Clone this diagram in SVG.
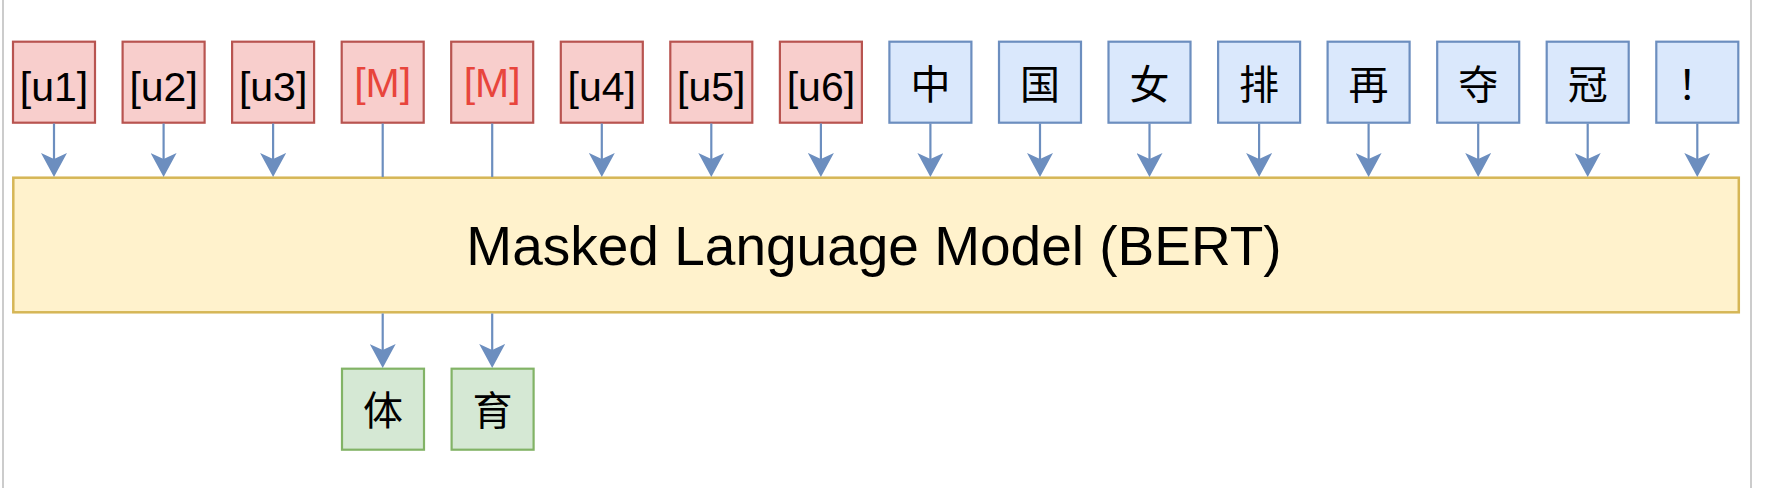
<svg xmlns="http://www.w3.org/2000/svg" width="1774" height="488" viewBox="0 0 1774 488">
<style>
.red rect{fill:#f8cecc;stroke:#b85450;stroke-width:2.2}
.blue rect{fill:#dae8fc;stroke:#6c8ebf;stroke-width:2.2}
.green rect{fill:#d5e8d4;stroke:#82b366;stroke-width:2.2}
.lat{font-family:"Liberation Sans",Arial,sans-serif;font-size:41px;fill:#000;text-anchor:middle}
.m{fill:#e8453c}
.cjk{font-family:"Noto Sans CJK SC","Liberation Sans",sans-serif;font-size:40px;fill:#000;text-anchor:middle}
.conn line{stroke:#6c8ebf;stroke-width:2.2;fill:none}
.arr{marker-end:url(#ah)}
</style>
<defs>
<marker id="ah" markerUnits="userSpaceOnUse" viewBox="0 0 24 26" markerWidth="24" markerHeight="26" refX="6" refY="13" orient="auto">
<path d="M0,0 L24,13 L0,26 L6,13 Z" fill="#6c8ebf"/>
</marker>
</defs>
<rect width="1774" height="488" fill="#fff"/>
<line x1="3" y1="0" x2="3" y2="488" stroke="#cccccc" stroke-width="2"/>
<line x1="1751" y1="0" x2="1751" y2="488" stroke="#cccccc" stroke-width="2"/>

<g id="bert">
<rect x="13.3" y="177.7" width="1725.5" height="134.6" fill="#fff2cc" stroke="#d6b656" stroke-width="2.5"/>
<text x="874" y="265" font-family="Liberation Sans,Arial,sans-serif" font-size="55" text-anchor="middle" fill="#000">Masked Language Model (BERT)</text>
</g>

<g id="u1" class="red"><rect x="13" y="41.7" width="82" height="81"/><text class="lat" x="54" y="101">[u1]</text></g>
<g id="u2" class="red"><rect x="122.6" y="41.7" width="82" height="81"/><text class="lat" x="163.6" y="101">[u2]</text></g>
<g id="u3" class="red"><rect x="232.1" y="41.7" width="82" height="81"/><text class="lat" x="273.1" y="101">[u3]</text></g>
<g id="m1" class="red"><rect x="341.7" y="41.7" width="82" height="81"/><text class="lat m" x="382.7" y="97">[M]</text></g>
<g id="m2" class="red"><rect x="451.2" y="41.7" width="82" height="81"/><text class="lat m" x="492.2" y="97">[M]</text></g>
<g id="u4" class="red"><rect x="560.8" y="41.7" width="82" height="81"/><text class="lat" x="601.8" y="101">[u4]</text></g>
<g id="u5" class="red"><rect x="670.3" y="41.7" width="82" height="81"/><text class="lat" x="711.3" y="101">[u5]</text></g>
<g id="u6" class="red"><rect x="779.9" y="41.7" width="82" height="81"/><text class="lat" x="820.9" y="101">[u6]</text></g>
<g id="c1" class="blue"><rect x="889.4" y="41.7" width="82" height="81"/><text class="cjk" x="930.4" y="98.5">中</text></g>
<g id="c2" class="blue"><rect x="999" y="41.7" width="82" height="81"/><text class="cjk" x="1040" y="98.5">国</text></g>
<g id="c3" class="blue"><rect x="1108.5" y="41.7" width="82" height="81"/><text class="cjk" x="1149.5" y="98.5">女</text></g>
<g id="c4" class="blue"><rect x="1218.1" y="41.7" width="82" height="81"/><text class="cjk" x="1259.1" y="98.5">排</text></g>
<g id="c5" class="blue"><rect x="1327.6" y="41.7" width="82" height="81"/><text class="cjk" x="1368.6" y="98.5">再</text></g>
<g id="c6" class="blue"><rect x="1437.2" y="41.7" width="82" height="81"/><text class="cjk" x="1478.2" y="98.5">夺</text></g>
<g id="c7" class="blue"><rect x="1546.7" y="41.7" width="82" height="81"/><text class="cjk" x="1587.7" y="98.5">冠</text></g>
<g id="c8" class="blue"><rect x="1656.3" y="41.7" width="82" height="81"/><text class="cjk" x="1697.3" y="98.5">！</text></g>

<g id="o1" class="green"><rect x="342" y="368.7" width="82" height="81"/><text class="cjk" x="383" y="425">体</text></g>
<g id="o2" class="green"><rect x="451.6" y="368.7" width="82" height="81"/><text class="cjk" x="492.6" y="425">育</text></g>

<g id="connectors" class="conn">
<line class="arr" x1="54" y1="123.5" x2="54" y2="159"/>
<line class="arr" x1="163.6" y1="123.5" x2="163.6" y2="159"/>
<line class="arr" x1="273.1" y1="123.5" x2="273.1" y2="159"/>
<line x1="382.7" y1="123.5" x2="382.7" y2="177"/>
<line x1="492.2" y1="123.5" x2="492.2" y2="177"/>
<line class="arr" x1="601.8" y1="123.5" x2="601.8" y2="159"/>
<line class="arr" x1="711.3" y1="123.5" x2="711.3" y2="159"/>
<line class="arr" x1="820.9" y1="123.5" x2="820.9" y2="159"/>
<line class="arr" x1="930.4" y1="123.5" x2="930.4" y2="159"/>
<line class="arr" x1="1040" y1="123.5" x2="1040" y2="159"/>
<line class="arr" x1="1149.5" y1="123.5" x2="1149.5" y2="159"/>
<line class="arr" x1="1259.1" y1="123.5" x2="1259.1" y2="159"/>
<line class="arr" x1="1368.6" y1="123.5" x2="1368.6" y2="159"/>
<line class="arr" x1="1478.2" y1="123.5" x2="1478.2" y2="159"/>
<line class="arr" x1="1587.7" y1="123.5" x2="1587.7" y2="159"/>
<line class="arr" x1="1697.3" y1="123.5" x2="1697.3" y2="159"/>
<line class="arr" x1="382.7" y1="313.5" x2="382.7" y2="350"/>
<line class="arr" x1="492.2" y1="313.5" x2="492.2" y2="350"/>
</g>
</svg>
